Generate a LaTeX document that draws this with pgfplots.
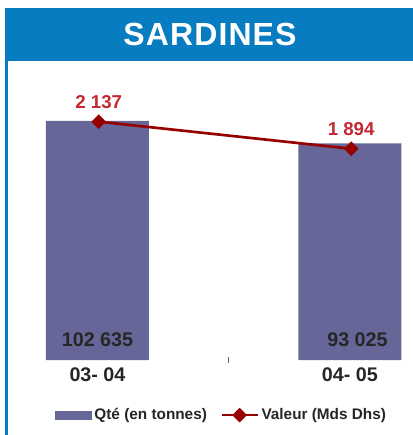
\documentclass[border=0pt]{standalone}
\usepackage{pgfplots}
\pgfplotsset{compat=1.18}
\usepackage{fontspec}
\setmainfont{Liberation Sans}
\definecolor{titleblue}{RGB}{8,124,193}
\definecolor{barcol}{RGB}{102,102,153}
\definecolor{linecol}{RGB}{150,0,0}
\definecolor{valred}{RGB}{196,40,52}
\definecolor{darktxt}{RGB}{38,38,38}

\pgfplotsset{
  short line legend/.style={
    legend image code/.code={\draw[mark repeat=2, mark phase=2, ##1]
      plot coordinates {(0pt,0pt) (13.5pt,0pt) (27pt,0pt)};}},
}
\tikzset{
  sep numbers/.style={/pgf/number format/.cd, fixed, precision=0,
    1000 sep={\ }, assume math mode=true},
}

\begin{document}
\begin{tikzpicture}
% frame and title, in pixel units
\begin{scope}[x=0.75pt,y=-0.75pt]
  \path[use as bounding box] (0,0) rectangle (413,435);
  \fill[titleblue] (5,8) rectangle (413,61);
  \fill[titleblue] (5,10) rectangle (7.5,435);
  \node[text=white, font=\fontsize{24}{28}\selectfont\bfseries\addfontfeatures{LetterSpace=3.5}]
    at (210,34.5) {SARDINES};
\end{scope}

% quantities (bars)
\begin{axis}[
  at={(35.25pt,-270pt)}, anchor=south west,
  scale only axis, width=274.5pt, height=217.5pt,
  xmin=-0.2, xmax=1.25, ymin=0, ymax=124500,
  axis x line*=bottom, axis y line=none,
  axis line style={draw=none},
  xtick={0,1}, xticklabels={03- 04, 04- 05},
  major tick length=0pt,
  extra x ticks={0.52}, extra x tick labels={},
  extra x tick style={major tick length=5pt, tick align=center,
    tick style={black!60, thin}},
  xticklabel style={font=\fontsize{14.8}{17}\selectfont\bfseries, text=darktxt, yshift=-2pt},
  clip=false,
]
  \addplot[ybar, bar shift=0pt, bar width=77.25pt, fill=barcol, draw=none]
    coordinates {(0,102635) (1,93025)};
  \addplot[draw=none, mark=none, nodes near coords, point meta=explicit,
    every node near coord/.append style={anchor=center, yshift=15pt,
      font=\fontsize{14.8}{17}\selectfont\bfseries, text=darktxt, sep numbers}]
    coordinates {(0,0) [102635] (1.03,0) [93025]};
\end{axis}

% value (line, secondary scale)
\begin{axis}[
  at={(35.25pt,-270pt)}, anchor=south west,
  scale only axis, width=274.5pt, height=217.5pt,
  xmin=-0.2, xmax=1.25, ymin=0, ymax=2600,
  hide axis, clip=false,
  legend style={at={(0.478,-0.19)}, anchor=center, draw=none, fill=none,
    legend columns=-1, font=\fontsize{11.5}{13}\selectfont\bfseries, text=darktxt,
    /tikz/every even column/.append style={column sep=8pt}},
]
  \addlegendimage{legend image code/.code={\fill[barcol] (0pt,-3pt) rectangle (27pt,3pt);}}
  \addlegendentry{Qté (en tonnes)}
  \addplot[linecol, line width=2pt, mark=square*, mark size=2.9pt,
    mark options={rotate=45, solid},
    nodes near coords, point meta=y,
    every node near coord/.append style={anchor=center, yshift=14.6pt,
      font=\fontsize{14}{16}\selectfont\bfseries, text=valred, sep numbers},
    short line legend]
    coordinates {(0.005,2137) (1.005,1894)};
  \addlegendentry{Valeur (Mds Dhs)}
\end{axis}
\end{tikzpicture}
\end{document}
